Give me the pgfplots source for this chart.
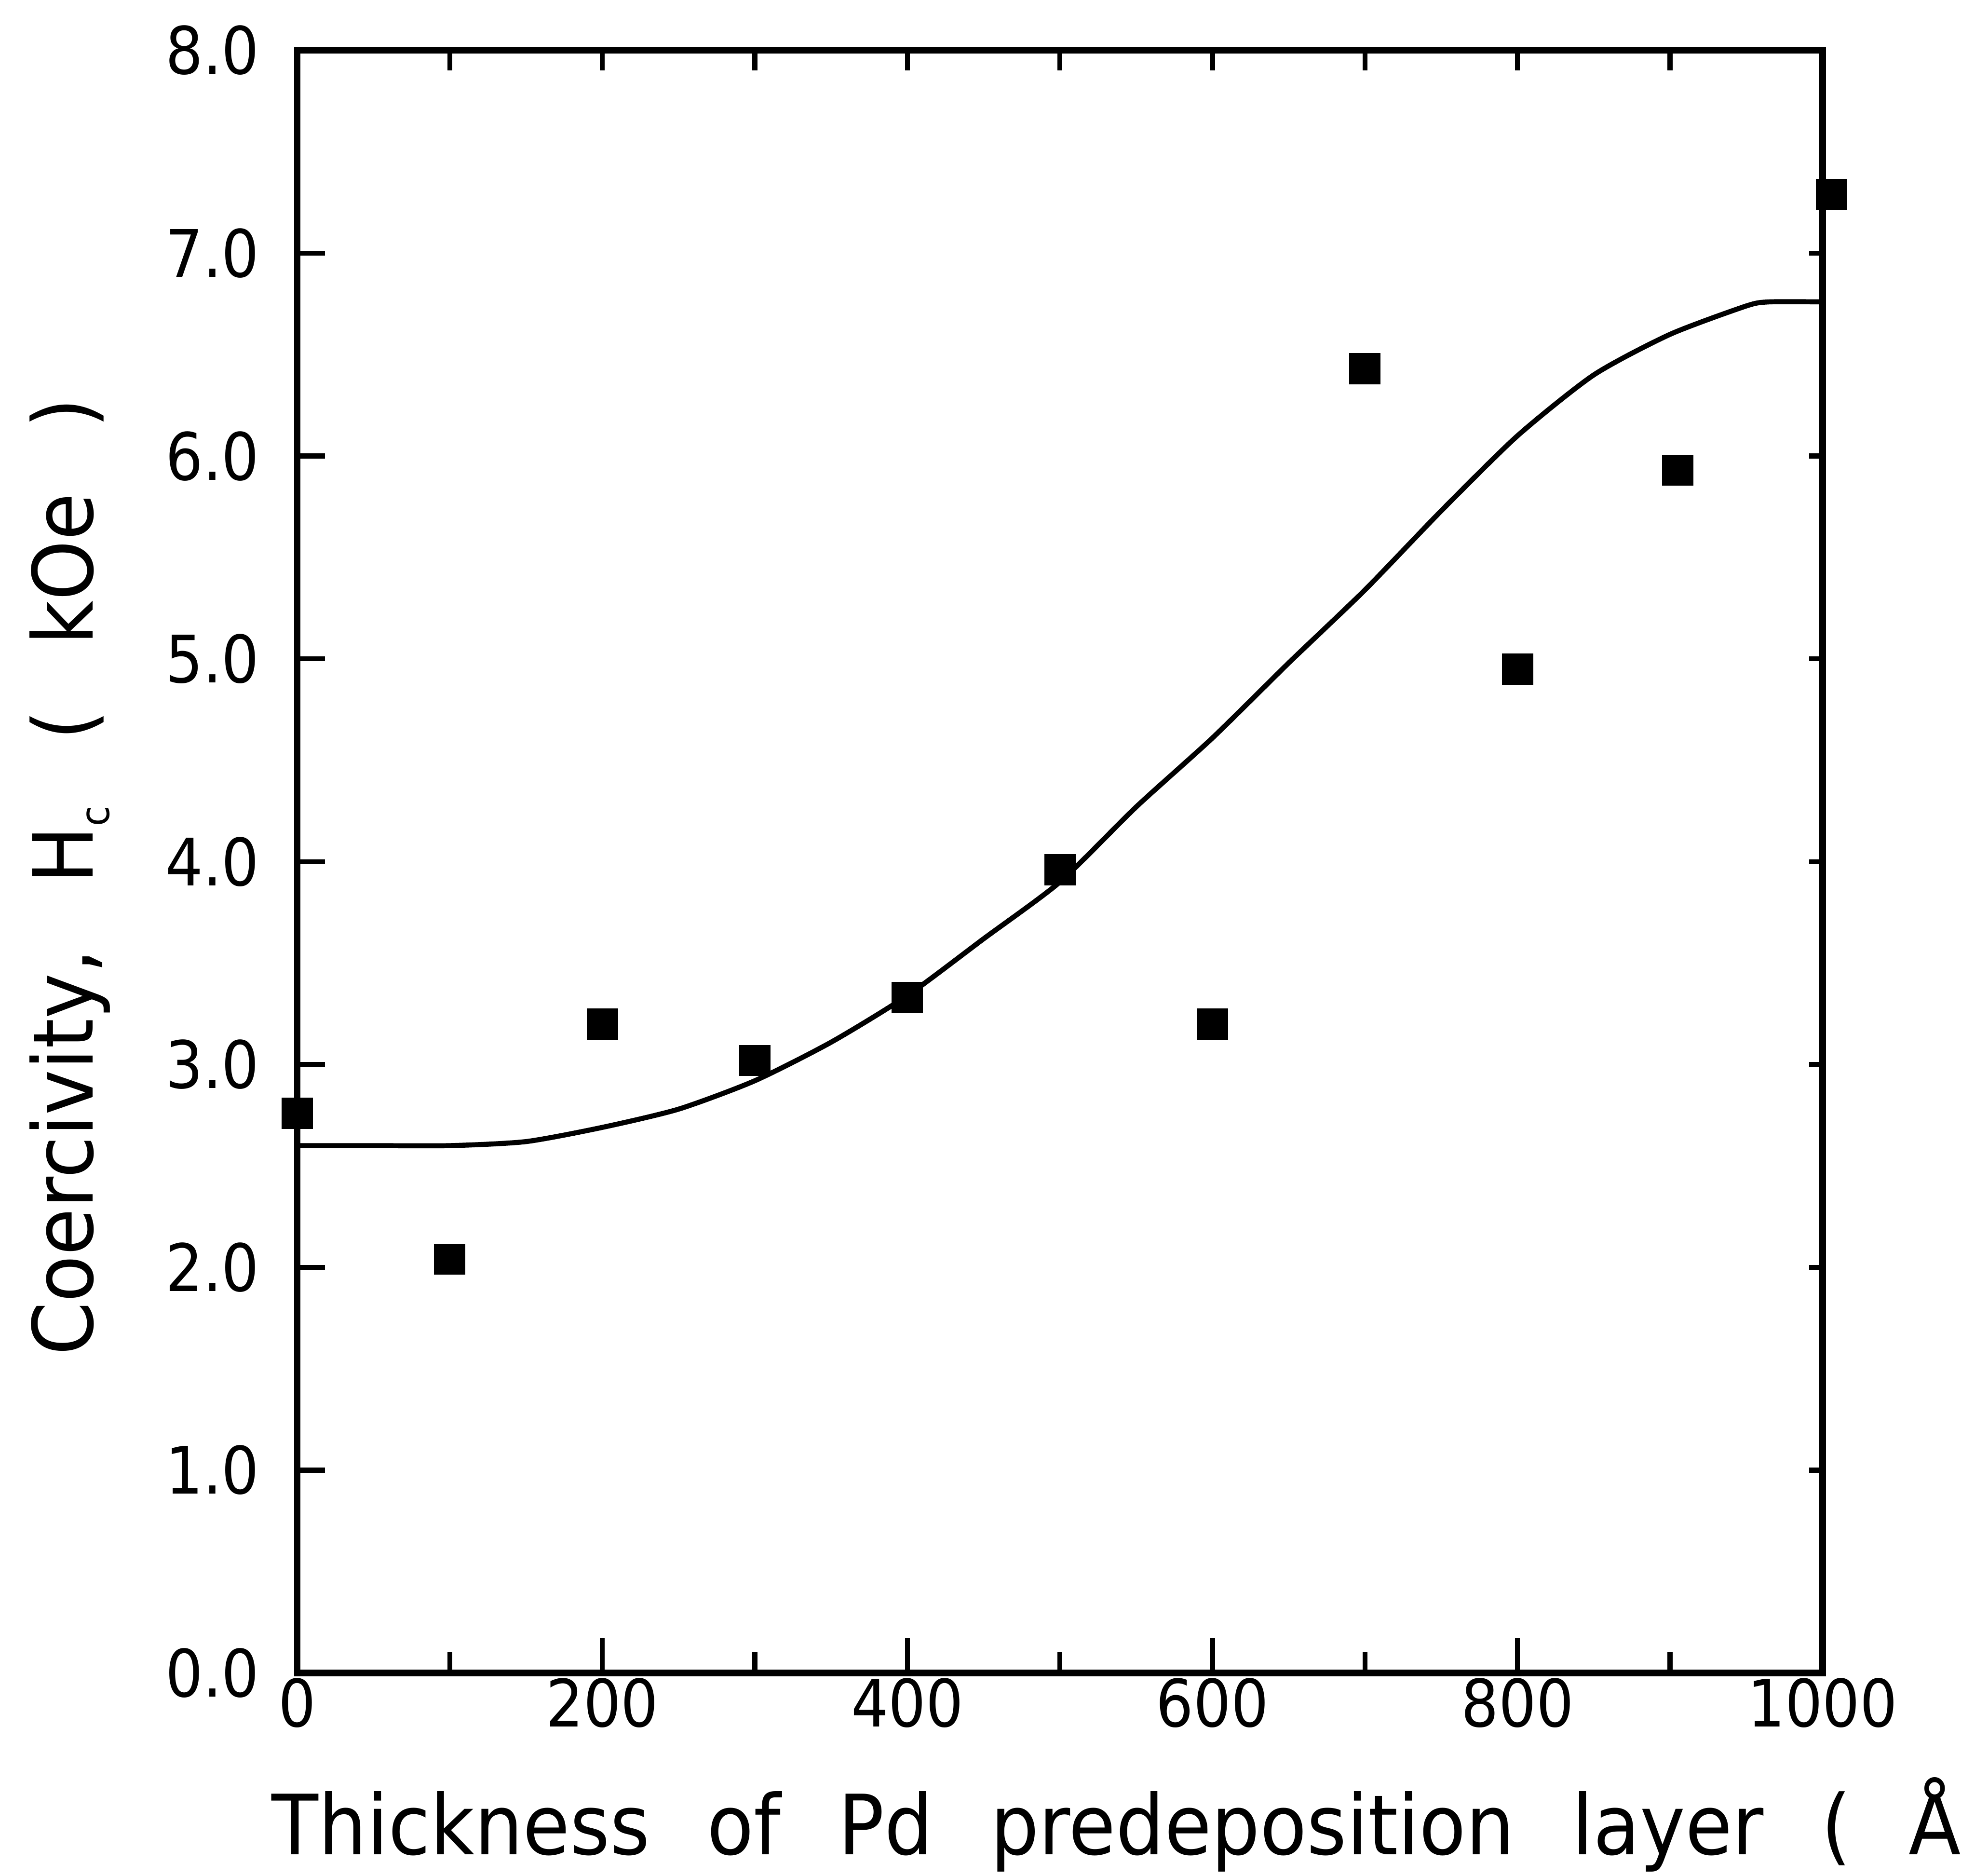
\documentclass[border=0pt]{standalone}
\usepackage{pgfplots}
\pgfplotsset{compat=1.18}
\usepackage{fontspec}
\setmainfont{DejaVu Sans}
\newfontfamily\labelfont{DejaVu Sans}[FakeStretch=0.92]
\newfontfamily\tickfont{DejaVu Sans}[FakeStretch=0.9]
\newcommand\ws{\hspace{11.4pt}}
\newcommand\wy{\hspace{13pt}}
\begin{document}
\begin{tikzpicture}
\useasboundingbox (-59pt,-40.25pt) rectangle (333pt,332pt);
\clip (-59pt,-40.25pt) rectangle (333pt,332pt);
\pgfplotsset{base/.style={scale only axis, width=302.75pt, height=322pt,
  xmin=0, xmax=1000, ymin=0, ymax=8, at={(0pt,0pt)}, anchor=south west,
  tick align=inside, clip=false,
  every tick/.style={line width=1pt, black},
  every minor tick/.style={line width=1pt, black},
  ticklabel style={font=\tickfont\fontsize{13}{13}\selectfont}}}
% main axis: box, bottom ticks, data
\begin{axis}[base,
  axis line style={line width=1.3pt},
  xtick={0,200,400,600,800,1000},
  xticklabels={0,200,400,600,800,1000},
  minor xtick={100,300,500,700,900},
  xtick pos=left, ytick=\empty,
  major tick length=7pt, minor tick length=4.25pt,
  xticklabel style={yshift=2.5pt}]
\addplot[black, line width=1pt, smooth, tension=0.4] coordinates {
(0,2.60) (50,2.60) (100,2.60) (150,2.62) (200,2.69) (250,2.78) (300,2.92)
(350,3.11) (400,3.34) (450,3.62) (500,3.90) (550,4.27) (600,4.61) (650,4.98)
(700,5.34) (750,5.73) (800,6.10) (850,6.40) (900,6.60) (950,6.74) (965,6.76) (1000,6.76)};
\addplot[only marks, mark=square*, mark size=2.9pt, black] coordinates {
(0,2.76) (100,2.04) (200,3.20) (300,3.02) (400,3.33) (500,3.96)
(600,3.20) (700,6.43) (800,4.95) (905,5.93) (1006,7.29)};
\end{axis}
% left y ticks with labels
\begin{axis}[base, axis line style={draw=none},
  xtick=\empty, ytick={0,1,2,3,4,5,6,7,8},
  yticklabels={0.0,1.0,2.0,3.0,4.0,5.0,6.0,7.0,8.0},
  ytick pos=left, major tick length=5.5pt,
  yticklabel style={xshift=-4pt}]
\end{axis}
% top ticks
\begin{axis}[base, axis line style={draw=none},
  ytick=\empty, xtick={100,200,300,400,500,600,700,800,900},
  xticklabels={}, xtick pos=right, major tick length=4pt]
\end{axis}
% right ticks
\begin{axis}[base, axis line style={draw=none},
  xtick=\empty, ytick={1,2,3,4,5,6,7},
  yticklabels={}, ytick pos=right, major tick length=2.7pt]
\end{axis}
\node[anchor=base west, inner sep=0pt, font=\labelfont\fontsize{16.5}{16.5}\selectfont]
  at (-5.25pt,-36pt) {Thickness\ws of\ws Pd\ws predeposition\ws layer\ws (\ws Å};
\node[rotate=90, anchor=base, inner sep=0pt, font=\labelfont\fontsize{16.5}{16.5}\selectfont]
  at (-40.6pt,158pt) {Coercivity,\wy H\raisebox{-3.25pt}{\fontsize{8}{8}\selectfont c}\wy(\wy kOe\wy)};
\end{tikzpicture}
\end{document}
